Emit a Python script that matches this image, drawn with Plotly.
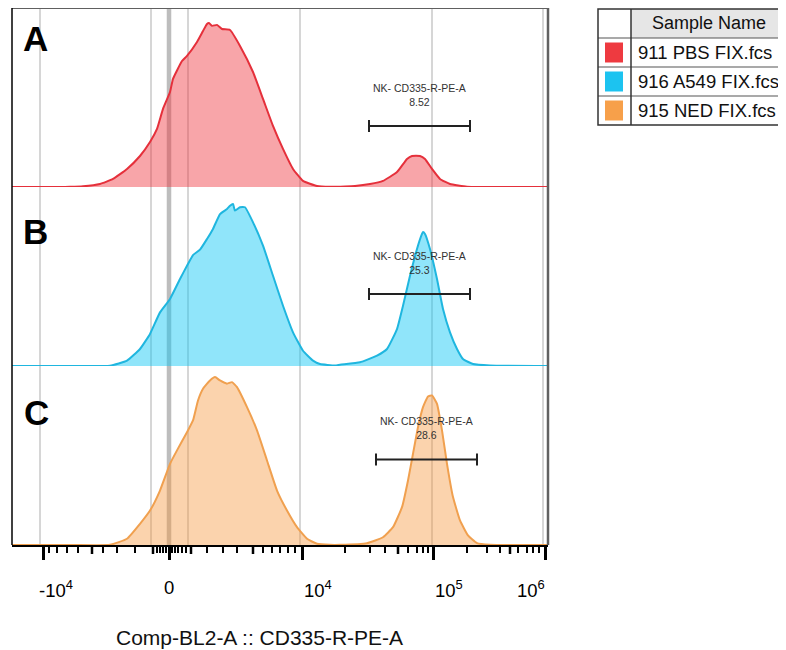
import plotly.graph_objects as go
from plotly.subplots import make_subplots

# ---------------- data (display channel units on a biexponential axis, counts as % of mode) -------------
panel_letters = ["A", "B", "C"]
sample_names = ["911 PBS FIX.fcs", "916 A549 FIX.fcs", "915 NED FIX.fcs"]

a_x = [0, 28, 48, 58, 71, 88, 101, 115, 128, 138, 145, 151, 158, 161, 170, 175, 185, 191, 195, 197, 200, 205,
       210, 218, 228, 241, 251, 261, 271, 281, 291, 305, 318, 333, 343, 358, 371, 385, 395, 400, 408, 413, 420,
       428, 438, 455, 480, 536]
a_y = [0, 0, 0, 0.1, 0.4, 1.8, 4.9, 11.0, 18.9, 27.4, 35.4, 47.6, 57.9, 65.9, 76.8, 79.9, 88.4, 95.1, 99.4, 100,
       98.2, 98.8, 96.3, 95.7, 86.0, 70.1, 53.7, 37.2, 23.2, 11.0, 3.7, 0.6, 0.1, 0.3, 0.6, 1.8, 3.7, 9.1, 17.1,
       18.9, 18.9, 17.1, 11.0, 4.9, 1.8, 0.2, 0, 0]

b_x = [0, 60, 98, 115, 128, 138, 148, 158, 168, 175, 181, 188, 195, 201, 208, 215, 218, 221, 223, 228, 233, 241,
       251, 261, 271, 281, 291, 301, 308, 323, 328, 348, 365, 375, 385, 391, 398, 405, 410, 411, 413, 418, 425,
       431, 438, 445, 451, 461, 478, 536]
b_y = [0, 0, 0.2, 3.3, 10.5, 19.8, 33.1, 41.4, 53.7, 61.9, 68.5, 71.8, 78.4, 84.6, 93.8, 96.9, 98.9, 100, 95.9,
       98.0, 98.0, 88.7, 74.3, 55.7, 37.2, 20.8, 9.4, 3.3, 1.2, 0.3, 0.8, 2.3, 6.4, 10.5, 22.8, 37.2, 55.7, 72.2,
       81.5, 82.7, 81.5, 72.2, 53.7, 35.2, 20.8, 10.5, 4.3, 1.2, 0.3, 0]

c_x = [0, 60, 98, 115, 128, 138, 148, 158, 165, 175, 181, 186, 191, 198, 203, 208, 215, 220, 225, 235, 245, 255,
       265, 275, 285, 295, 305, 318, 328, 355, 371, 381, 390, 396, 401, 406, 411, 416, 420, 425, 430, 435, 441,
       448, 456, 465, 478, 536]
c_y = [0, 0, 0.1, 3.7, 12.6, 20.5, 32.4, 48.3, 56.3, 67.1, 74.1, 86.0, 93.0, 97.9, 99.9, 97.9, 96.0, 96.9, 93.9,
       82.0, 68.2, 50.3, 32.4, 20.5, 10.6, 3.7, 0.7, 0.1, 0.1, 1.1, 4.6, 10.6, 22.5, 38.4, 54.3, 70.1, 82.0, 88.4,
       89.0, 84.0, 68.2, 48.3, 28.5, 14.6, 5.7, 1.1, 0.1, 0]

# gate "NK- CD335-R-PE-A"
gate_name = "NK- CD335-R-PE-A"
gate_lo = [357, 357, 364]
gate_hi = [458, 458, 465]
gate_level = [37.2, 44.4, 50.9]
gate_pct = ["8.52", "25.3", "28.6"]

# axis ticks (display channel positions)
major_ticks = [31, 157, 290, 421, 533]
tick_labels = ["-10<sup>4</sup>", "0", "10<sup>4</sup>", "10<sup>5</sup>", "10<sup>6</sup>"]
medium_ticks = [80, 141, 179, 241, 386, 498]
minor_ticks = [37, 45, 55, 66, 91, 105, 123, 145, 148, 151, 154, 160, 163, 166, 170, 174,
               195, 211, 225, 251, 260, 268, 276, 283,
               333, 358, 373, 396, 405, 411, 416,
               455, 475, 488, 506, 515, 521, 527]
grid_lines = [28, 139, 176, 288, 420, 531]
zero_line = 157
x_title = "Comp-BL2-A :: CD335-R-PE-A"

# ---------------- styling ----------------
line_colors = ["#e5303b", "#1fb6df", "#f0a04f"]
fill_colors = ["rgba(240,55,65,0.45)", "rgba(20,200,245,0.47)", "rgba(246,150,60,0.42)"]
swatch_colors = ["#ee3a40", "#1cc3f0", "#f7a04a"]
y_max = [109.1, 110.5, 106.5]
FONT = "Liberation Sans, Arial, sans-serif"

# the page adds an 8px body margin; the figure is sized so it fits the 786x650 window
PAGE = 8
W, H = 786 - PAGE, 650 - PAGE
PLOT_L, PLOT_R, PLOT_T, PLOT_B = 12, 548, 8, 545       # plot area in window pixels
L, T = PLOT_L - PAGE, PLOT_T - PAGE
R, B = W - (PLOT_R - PAGE), H - (PLOT_B - PAGE)
PW, PH = PLOT_R - PLOT_L, PLOT_B - PLOT_T


def px_x(px):
    return (px - PLOT_L) / PW


def px_y(py):
    return (PLOT_B - py) / PH


fig = make_subplots(rows=3, cols=1, shared_xaxes=True, vertical_spacing=0)

series = [(a_x, a_y), (b_x, b_y), (c_x, c_y)]
for i, (xs, ys) in enumerate(series):
    fig.add_trace(go.Scatter(x=xs, y=ys, mode="lines", fill="tozeroy",
                             line=dict(color=line_colors[i], width=2, shape="spline", smoothing=0.4),
                             fillcolor=fill_colors[i], showlegend=False, hoverinfo="skip",
                             name=sample_names[i]), row=i + 1, col=1)

for i in range(3):
    fig.update_xaxes(range=[0, 536], showgrid=False, zeroline=False, showticklabels=False,
                     showline=False, row=i + 1, col=1)
    fig.update_yaxes(range=[0, y_max[i]], showgrid=False, zeroline=False, showticklabels=False,
                     showline=False, ticks="", row=i + 1, col=1)

fig.update_xaxes(ticks="outside", tickmode="array", tickvals=major_ticks, ticklen=13, tickwidth=3,
                 tickcolor="black", showline=True, linecolor="black", linewidth=2,
                 minor=dict(tickmode="array", tickvals=minor_ticks, ticks="outside", ticklen=6,
                            tickwidth=2, tickcolor="black"),
                 row=3, col=1)

shapes = []
# grid lines
for g in grid_lines:
    shapes.append(dict(type="line", xref="x", yref="paper", x0=g, x1=g, y0=0, y1=1,
                       line=dict(color="#c9c9c9", width=1.5), layer="below"))
shapes.append(dict(type="line", xref="x", yref="paper", x0=zero_line, x1=zero_line, y0=0, y1=1,
                   line=dict(color="#bdbdbd", width=4.5), layer="below"))
# medium ticks
for m in medium_ticks:
    shapes.append(dict(type="line", xref="x", yref="paper", x0=m, x1=m, y0=0, y1=-9 / PH,
                       line=dict(color="black", width=2.5)))
# frame
shapes.append(dict(type="line", xref="paper", yref="paper", x0=0, x1=1, y0=1, y1=1,
                   line=dict(color="#606060", width=2)))
shapes.append(dict(type="line", xref="paper", yref="paper", x0=1, x1=1, y0=0, y1=1,
                   line=dict(color="#606060", width=2.5)))
shapes.append(dict(type="line", xref="paper", yref="paper", x0=0, x1=0, y0=0, y1=1,
                   line=dict(color="black", width=1.5)))

annotations = []
# gates
for i in range(3):
    xr = "x" if i == 0 else f"x{i + 1}"
    yr = "y" if i == 0 else f"y{i + 1}"
    cap = 6 * y_max[i] / (PH / 3)
    shapes.append(dict(type="line", xref=xr, yref=yr, x0=gate_lo[i], x1=gate_hi[i],
                       y0=gate_level[i], y1=gate_level[i], line=dict(color="#222", width=2)))
    for gx in (gate_lo[i], gate_hi[i]):
        shapes.append(dict(type="line", xref=xr, yref=yr, x0=gx, x1=gx,
                           y0=gate_level[i] - cap, y1=gate_level[i] + cap, line=dict(color="#222", width=2)))
    annotations.append(dict(xref=xr, yref=yr, x=(gate_lo[i] + gate_hi[i]) / 2, y=gate_level[i],
                            text=f"{gate_name}<br>{gate_pct[i]}", showarrow=False, yanchor="bottom",
                            yshift=16, font=dict(family=FONT, size=10.5, color="#333")))

# panel letters
letter_pos = [(35, 38.5), (35, 231.5), (36.5, 412)]
for lt, (lx, ly) in zip(panel_letters, letter_pos):
    annotations.append(dict(xref="paper", yref="paper", x=px_x(lx), y=px_y(ly), text=f"<b>{lt}</b>",
                            showarrow=False, xanchor="center", yanchor="middle",
                            font=dict(family=FONT, size=35, color="black")))

# tick labels
label_anchor = ["left", "center", "left", "left", "right"]
label_shift = [-6, 0, 0, 0, 2]
for tv, tl, an, sh in zip(major_ticks, tick_labels, label_anchor, label_shift):
    annotations.append(dict(xref="x3", yref="paper", x=tv, y=px_y(575), text=tl, showarrow=False,
                            xanchor=an, yanchor="top", xshift=sh,
                            font=dict(family=FONT, size=18.5, color="black")))

# axis title
annotations.append(dict(xref="paper", yref="paper", x=px_x(259), y=px_y(637), text=x_title,
                        showarrow=False, xanchor="center", yanchor="middle",
                        font=dict(family=FONT, size=21, color="#111")))

# legend table
tl_left, tl_div, tl_right = 598, 631, 792
row_edges = [9, 38, 67, 96, 125]
shapes.append(dict(type="rect", xref="paper", yref="paper", x0=px_x(tl_div), x1=px_x(tl_right),
                   y0=px_y(row_edges[1]), y1=px_y(row_edges[0]), fillcolor="#e6e6e6",
                   line=dict(width=0)))
for ry in row_edges[1:-1]:
    shapes.append(dict(type="line", xref="paper", yref="paper", x0=px_x(tl_left), x1=px_x(tl_right),
                       y0=px_y(ry), y1=px_y(ry), line=dict(color="#555", width=1.2)))
shapes.append(dict(type="line", xref="paper", yref="paper", x0=px_x(tl_div), x1=px_x(tl_div),
                   y0=px_y(row_edges[-1]), y1=px_y(row_edges[0]), line=dict(color="#333", width=1.5)))
shapes.append(dict(type="rect", xref="paper", yref="paper", x0=px_x(tl_left), x1=px_x(tl_right),
                   y0=px_y(row_edges[-1]), y1=px_y(row_edges[0]), line=dict(color="#333", width=1.5)))
annotations.append(dict(xref="paper", yref="paper", x=px_x(709), y=px_y((row_edges[0] + row_edges[1]) / 2),
                        text="Sample Name", showarrow=False, xanchor="center", yanchor="middle",
                        font=dict(family=FONT, size=18, color="#111")))
for i in range(3):
    top, bot = row_edges[i + 1], row_edges[i + 2]
    shapes.append(dict(type="rect", xref="paper", yref="paper", x0=px_x(605), x1=px_x(623),
                       y0=px_y(bot - 4.5), y1=px_y(top + 4.5), fillcolor=swatch_colors[i],
                       line=dict(width=0)))
    annotations.append(dict(xref="paper", yref="paper", x=px_x(636), y=px_y((top + bot) / 2),
                            text=sample_names[i], showarrow=False, xanchor="left", yanchor="middle",
                            font=dict(family=FONT, size=18.5, color="#111")))

fig.update_layout(width=W, height=H, margin=dict(l=L, r=R, t=T, b=B, autoexpand=False),
                  plot_bgcolor="white", paper_bgcolor="white", showlegend=False,
                  shapes=shapes, annotations=annotations, font=dict(family=FONT))

fig.write_html("out.html")
